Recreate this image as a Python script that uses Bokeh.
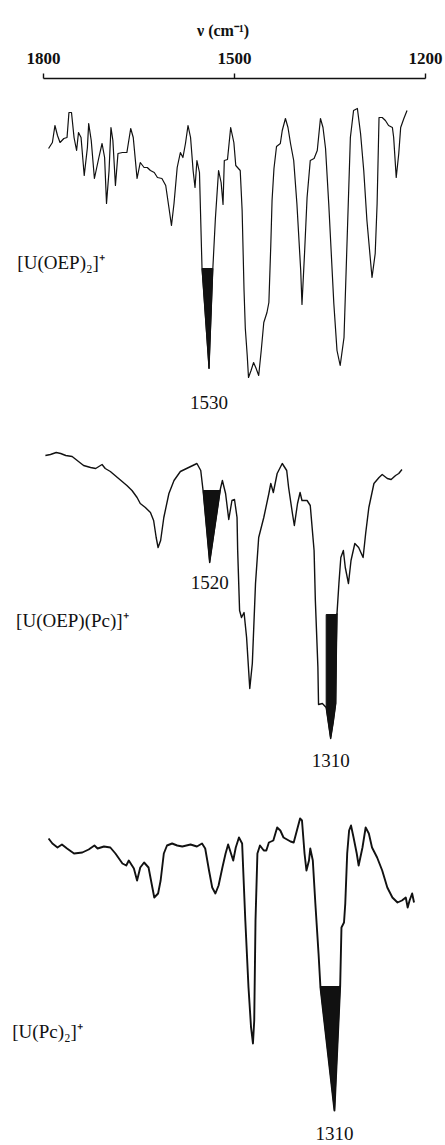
import numpy as np
from bokeh.plotting import figure
from bokeh.models import Range1d, FixedTicker, Label
from bokeh.embed import file_html
from bokeh.resources import INLINE
from bokeh.core.properties import value

# IR spectra, wavenumber (cm-1) vs. relative transmittance (arbitrary units)
oep2_wn = [1792, 1786, 1782, 1778, 1774, 1768, 1763, 1760, 1756, 1752, 1748, 1745, 1741, 1736,
           1731, 1729, 1725, 1720, 1713, 1708, 1704, 1701, 1697, 1694, 1691, 1687, 1683, 1676,
           1669, 1663, 1659, 1653, 1648, 1642, 1637, 1632, 1626, 1621, 1614, 1608, 1603, 1599,
           1595, 1590, 1585, 1581, 1577, 1573, 1569, 1565, 1562, 1559, 1555,
           1551, 1540, 1534, 1530, 1525, 1521, 1518, 1516, 1511, 1506, 1501, 1498, 1491, 1488,
           1485, 1483, 1480, 1478, 1474, 1470, 1466, 1462, 1458, 1454, 1449, 1446, 1443, 1441,
           1438, 1434, 1428, 1425, 1420, 1416, 1412, 1407, 1402, 1396, 1394, 1390, 1386, 1381,
           1375, 1370, 1365, 1361, 1357, 1352, 1344, 1339, 1334, 1328, 1323, 1318, 1313, 1307,
           1302, 1297, 1292, 1286, 1284, 1279, 1276, 1273, 1268, 1263, 1258, 1252, 1250, 1246,
           1242, 1239, 1234, 1229]
oep2_t = [232, 238, 255, 245, 238, 242, 243, 268, 268, 243, 230, 248, 243, 205,
          233, 257, 240, 202, 223, 237, 223, 177, 210, 253, 240, 195, 227, 228,
          228, 252, 243, 202, 218, 213, 213, 210, 208, 203, 202, 195, 173, 155,
          177, 213, 228, 223, 237, 255, 243, 210, 193, 220, 208,
          112, 12, 112, 162, 210, 198, 176, 220, 221, 253, 238, 215, 210, 170,
          90, 52, 25, 3, 10, 18, 12, 5, 30, 58, 68, 78, 135, 180,
          212, 234, 237, 250, 262, 253, 237, 220, 177, 110, 76, 127, 183, 220,
          222, 230, 262, 253, 232, 177, 77, 30, 15, 43, 143, 243, 270, 272,
          247, 210, 160, 117, 103, 127, 177, 263, 263, 260, 255, 253, 243, 203,
          227, 253, 262, 270]

oeppc_wn = [1797, 1789, 1780, 1773, 1765, 1755, 1747, 1737, 1726, 1718, 1708, 1703, 1695, 1682,
            1669, 1661, 1653, 1648, 1640, 1632, 1627, 1623, 1620, 1616, 1611, 1603, 1595, 1585,
            1572, 1559, 1553, 1549, 1539, 1522, 1519, 1514, 1509, 1504, 1500, 1496, 1495, 1492,
            1489, 1485, 1481, 1476, 1472, 1467, 1462, 1454, 1446, 1443, 1439, 1433, 1425, 1418,
            1415, 1409, 1406, 1401, 1397, 1394, 1386, 1381, 1375, 1373, 1369, 1368, 1362, 1356,
            1349, 1345, 1341, 1340, 1339, 1336, 1333, 1329, 1326, 1321, 1317, 1311, 1305, 1298,
            1294, 1289, 1281, 1273, 1268, 1260, 1254, 1247, 1242, 1237]
oeppc_t = [290, 291, 293, 292, 290, 289, 285, 280, 278, 277, 281, 277, 274, 267,
           260, 255, 248, 242, 238, 233, 225, 208, 198, 205, 228, 252, 265, 274,
           278, 282, 275, 253, 183, 257, 265, 252, 226, 245, 246, 228, 195, 135,
           128, 133, 108, 57, 82, 162, 208, 228, 252, 262, 253, 272, 282, 275,
           258, 232, 220, 242, 253, 245, 245, 240, 195, 145, 78, 41, 42, 38,
           7, 23, 42, 95, 132, 162, 188, 195, 178, 162, 185, 202, 198, 188,
           212, 238, 262, 268, 271, 267, 266, 270, 272, 276]

pc2_wn = [1792, 1786, 1778, 1771, 1763, 1752, 1739, 1729, 1720, 1715, 1705, 1695, 1687, 1676,
          1670, 1666, 1658, 1653, 1648, 1642, 1635, 1629, 1626, 1620, 1616, 1611, 1606, 1598,
          1590, 1582, 1569, 1559, 1551, 1546, 1540, 1535, 1530, 1525, 1519, 1514, 1510, 1506,
          1502, 1498, 1493, 1488, 1483, 1478, 1474, 1471, 1469, 1467, 1464, 1460, 1454, 1450,
          1446, 1439, 1433, 1428, 1423, 1412, 1407, 1402, 1397, 1394, 1390, 1387, 1383, 1381,
          1377, 1373, 1368, 1365, 1343, 1334, 1332, 1328, 1326, 1323, 1320, 1317, 1313, 1308,
          1305, 1299, 1294, 1289, 1284, 1276, 1268, 1260, 1252, 1244, 1237, 1231, 1228, 1225,
          1221, 1218]
pc2_t = [282, 277, 273, 276, 272, 267, 268, 271, 275, 272, 274, 273, 267, 257,
         255, 260, 252, 240, 253, 258, 253, 233, 223, 227, 240, 267, 275, 277,
         275, 274, 276, 274, 277, 272, 250, 233, 227, 235, 253, 267, 276, 268,
         260, 273, 283, 277, 200, 133, 93, 77, 100, 200, 267, 275, 270, 270,
         278, 280, 293, 290, 283, 279, 278, 290, 302, 300, 267, 250, 260, 272,
         260, 217, 167, 133, 10, 135, 193, 198, 217, 267, 290, 295, 283, 267,
         255, 273, 293, 287, 273, 263, 250, 233, 223, 218, 220, 223, 213, 220,
         227, 218]

names = ["[U(OEP)₂]⁺", "[U(OEP)(Pc)]⁺", "[U(Pc)₂]⁺"]

# highlighted bands: spectrum, label, high/low wavenumber edge, shading level
band_spec = [0, 1, 1, 2]
band_text = ["1530", "1520", "1310", "1310"]
band_hi = [1551, 1549, 1356, 1365]
band_lo = [1534, 1522, 1339, 1334]
band_level = [112, 255, 131, 134]

axis_ticks = [1800, 1500, 1200]

spectra = [(oep2_wn, oep2_t), (oeppc_wn, oeppc_t), (pc2_wn, pc2_t)]

# vertical stacking of the three traces and their styling
offsets = [765, 400, 25]
widths = [1.2, 1.4, 1.9]
name_pos = [118, 125, 89]
name_x = [1841, 1843, 1849]
label_gap = [34, 20, 22, 23]

SERIF = "Liberation Serif"
INK = "#111111"

p = figure(width=445, height=1145,
           x_range=Range1d(1867.5, 1168.6), y_range=Range1d(0, 1067),
           x_axis_location="above", y_axis_location=None,
           output_backend="svg", toolbar_location=None,
           min_border_left=0, min_border_right=0, min_border_bottom=0, min_border_top=78)
p.outline_line_color = None
p.grid.visible = False
p.background_fill_color = "white"
p.border_fill_color = "white"

ax = p.xaxis[0]
ax.ticker = FixedTicker(ticks=axis_ticks)
ax.bounds = (1200, 1800)
ax.axis_line_color = INK
ax.axis_line_width = 1.6
ax.major_tick_line_color = INK
ax.major_tick_line_width = 1.4
ax.major_tick_out = 5
ax.major_tick_in = 0
ax.minor_tick_line_color = None
ax.major_label_standoff = 10
ax.major_label_text_font = SERIF
ax.major_label_text_font_style = "bold"
ax.major_label_text_font_size = "17px"
ax.major_label_text_color = INK
ax.axis_label = "ν (cm⁻¹)"
ax.axis_label_text_font = SERIF
ax.axis_label_text_font_style = "bold"
ax.axis_label_text_font_size = "16px"
ax.axis_label_text_color = INK
ax.axis_label_standoff = 11

for (wn, t), off, lw, nm, npos, nx in zip(spectra, offsets, widths, names, name_pos, name_x):
    y = np.asarray(t, float) + off
    p.line(wn, y, line_color=INK, line_width=lw, line_join="round")
    p.add_layout(Label(x=nx, y=off + npos, text=nm, text_font=SERIF,
                       text_font_size="19px", text_color=INK, text_baseline="middle",
                       text_align="left"))


def band_polygon(wn, t, hi, lo, level):
    wn = np.asarray(wn, float)
    t = np.asarray(t, float)
    order = np.argsort(wn)
    t_hi = np.interp(hi, wn[order], t[order])
    t_lo = np.interp(lo, wn[order], t[order])
    inside = (wn < hi) & (wn > lo)
    xs = [hi, lo, lo] + list(wn[inside][::-1]) + [hi]
    ys = [level, level, t_lo] + list(t[inside][::-1]) + [t_hi]
    tip = int(np.argmin(t[inside]))
    return xs, ys, wn[inside][tip], t[inside][tip]


for si, txt, hi, lo, lev, gap in zip(band_spec, band_text, band_hi, band_lo, band_level, label_gap):
    wn, t = spectra[si]
    xs, ys, tip_x, tip_t = band_polygon(wn, t, hi, lo, lev)
    off = offsets[si]
    p.patch(xs, [v + off for v in ys], fill_color=INK, line_color=INK, line_width=1)
    p.text(x=[tip_x], y=[tip_t + off - gap], text=[txt], text_font=value(SERIF),
           text_font_size="19px", text_color=INK, text_align="center", text_baseline="middle")

open("out.html", "w").write(file_html(p, INLINE))
